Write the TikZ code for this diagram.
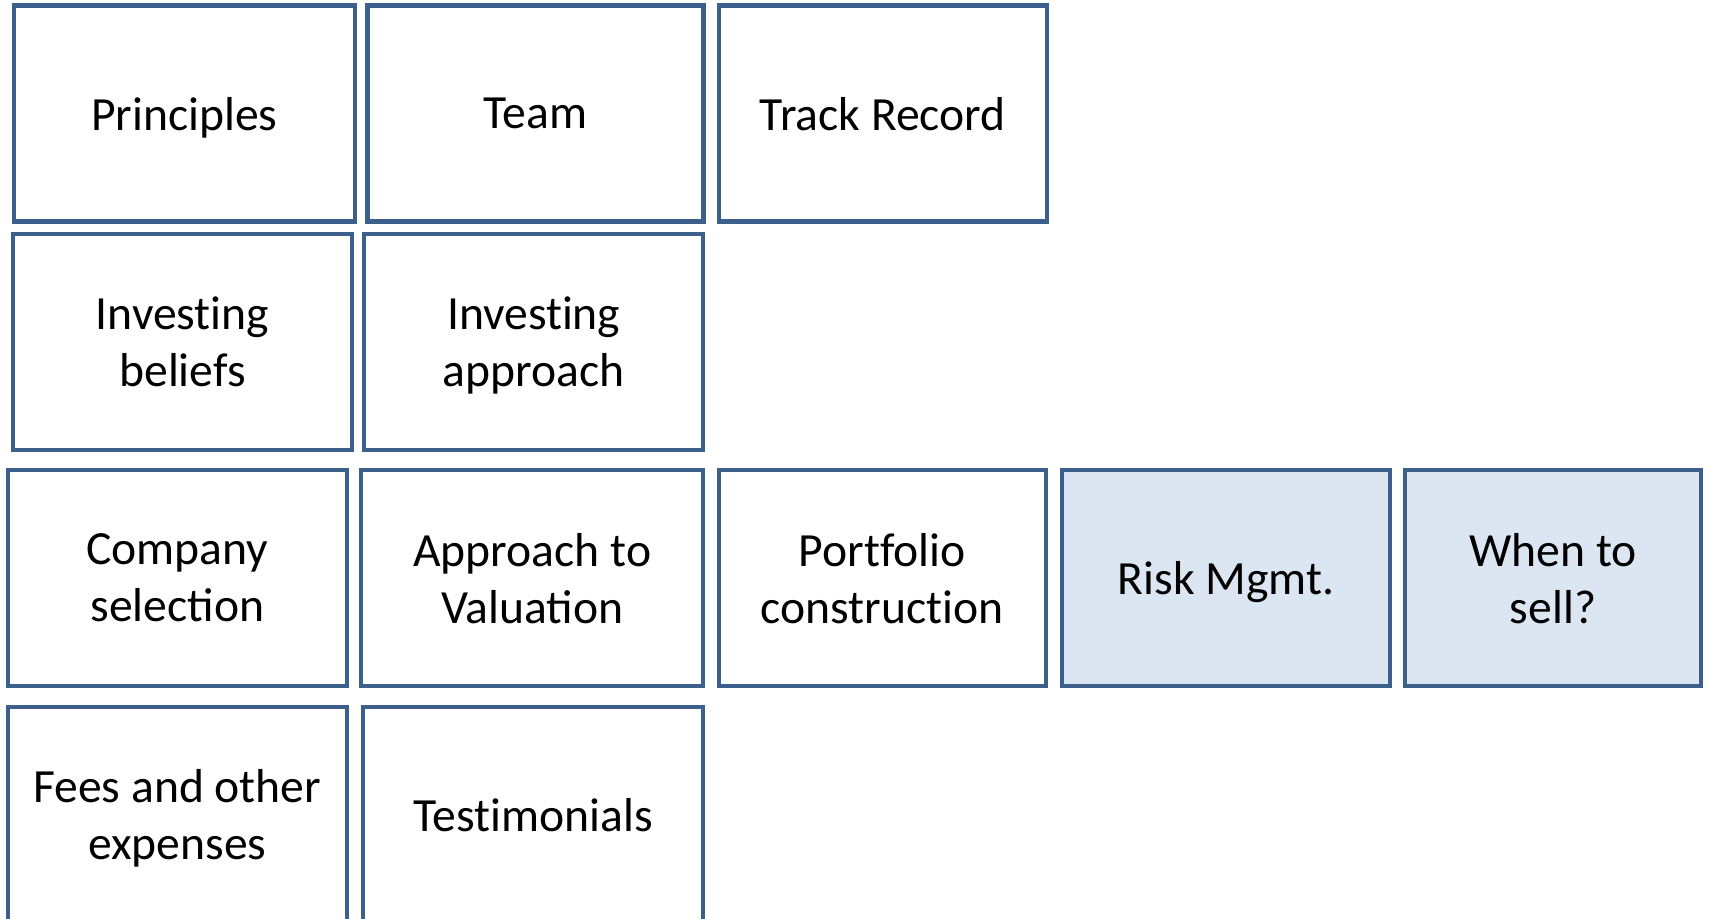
\documentclass[tikz,border=0pt]{standalone}
\usepackage{fontspec}
\setmainfont{Carlito}
\usetikzlibrary{positioning}
\definecolor{cardline}{HTML}{3D5F8C}
\definecolor{cardfill}{HTML}{DCE6F2}
% breaks a ligature
\newcommand{\nolig}{\kern0pt}

\begin{document}
\begin{tikzpicture}[
  card/.style={rectangle,draw=cardline,line width=1.15pt,fill=white,minimum height=2.16cm,align=center,inner sep=2pt,text depth=0pt,font=\fontsize{13.55}{16.2}\selectfont},
  hot/.style={card,fill=cardfill}
]
  \useasboundingbox (0,0) rectangle (17.1,-9.18);
  \clip (0,0) rectangle (17.1,-9.18);

  % row 1
  \node[card,minimum width=3.405cm] (principles) at (1.843,-1.135) {Principles};
  \node[card,minimum width=3.36cm] (team) at (5.355,-1.135) {Team};
  \node[card,minimum width=3.28cm] (track) at (8.828,-1.135) {Track Record};

  % row 2
  \node[card,minimum width=3.39cm] (beliefs) at (1.825,-3.42) {Invest\nolig ing\\beliefs};
  \node[card,minimum width=3.395cm] (approach) at (5.337,-3.42) {Invest\nolig ing\\approach};

  % row 3
  \node[card,minimum width=3.394cm] (company) at (1.773,-5.78) {Company\\selection};
  \node[card,minimum width=3.425cm] (valuation) at (5.322,-5.78) {Approach to\\Valuation};
  \node[card,minimum width=3.273cm] (portfolio) at (8.823,-5.78) {Port\nolig folio\\construct\nolig ion};
  \node[hot,minimum width=3.28cm] (risk) at (12.26,-5.78) {Risk Mgmt.};
  \node[hot,minimum width=2.96cm] (sell) at (15.53,-5.78) {When to\\sell?};

  % row 4
  \node[card,minimum width=3.394cm] (fees) at (1.773,-8.147) {Fees and other\\expenses};
  \node[card,minimum width=3.405cm] (testimonials) at (5.332,-8.147) {Test\nolig imonials};
\end{tikzpicture}
\end{document}
